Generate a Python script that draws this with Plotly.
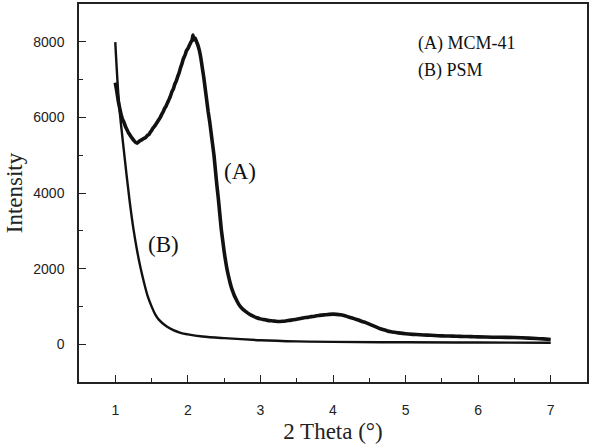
import plotly.graph_objects as go

# (A) MCM-41
a_x = [1.00,1.02,1.04,1.06,1.08,1.10,1.12,1.14,1.16,1.18,1.20,1.22,1.24,1.26,1.28,1.30,1.32,1.34,1.36,1.38,
       1.40,1.42,1.44,1.46,1.48,1.50,1.52,1.54,1.56,1.58,1.60,1.62,1.64,1.66,1.68,1.70,1.72,1.74,1.76,1.78,
       1.80,1.82,1.84,1.86,1.88,1.90,1.92,1.94,1.96,1.98,2.00,2.02,2.04,2.06,2.07,2.08,2.10,2.12,2.14,2.16,
       2.18,2.20,2.22,2.24,2.26,2.28,2.30,2.32,2.34,2.36,2.38,2.40,2.42,2.44,2.46,2.48,2.50,2.52,2.54,2.56,
       2.58,2.60,2.62,2.64,2.66,2.68,2.70,2.73,2.76,2.80,2.85,2.90,2.95,3.00,3.05,3.10,3.15,3.20,3.25,3.30,
       3.35,3.40,3.45,3.50,3.55,3.60,3.65,3.70,3.75,3.80,3.85,3.90,3.95,4.00,4.05,4.10,4.15,4.20,4.25,4.30,
       4.35,4.40,4.45,4.50,4.55,4.60,4.65,4.70,4.75,4.80,4.85,4.90,5.00,5.10,5.20,5.30,5.40,5.50,5.60,5.70,
       5.80,5.90,6.00,6.20,6.40,6.60,6.80,6.90,7.00]
a_y = [6920,6700,6450,6250,6080,5950,5870,5760,5680,5600,5540,5480,5430,5380,5340,5320,5350,5380,5400,5430,
       5450,5470,5520,5540,5600,5650,5720,5760,5820,5880,5940,6000,6080,6150,6240,6300,6390,6470,6560,6680,
       6750,6880,6960,7080,7180,7320,7430,7560,7640,7760,7820,7900,7980,8060,8180,8050,8100,8000,7900,7760,
       7560,7300,7050,6750,6450,6150,5900,5600,5300,5000,4600,4200,3850,3450,3050,2750,2450,2200,1980,1800,
       1640,1500,1390,1290,1210,1130,1060,980,920,860,790,740,700,670,650,630,620,610,600,605,
       615,630,645,660,680,700,710,730,740,760,770,780,790,795,790,780,760,730,700,670,
       640,600,570,530,490,450,410,380,350,330,315,300,275,260,250,240,230,220,215,210,
       205,200,195,185,180,170,150,140,125]

# (B) PSM
b_x = [1.00,1.05,1.10,1.15,1.20,1.25,1.30,1.35,1.40,1.45,1.50,1.55,1.60,1.70,1.80,1.90,2.00,2.20,2.50,3.00,
       3.50,4.00,5.00,6.00,7.00]
b_y = [7990,6400,5440,4570,3750,3050,2480,2000,1600,1250,1000,790,650,480,370,300,260,205,160,105,
       75,62,50,45,40]

x_ticks = [1, 2, 3, 4, 5, 6, 7]
y_ticks = [0, 2000, 4000, 6000, 8000]

fig = go.Figure()
fig.add_trace(go.Scatter(x=a_x, y=a_y, mode="lines", line=dict(color="#111111", width=3.6, shape="spline", smoothing=0.6),
                         showlegend=False))
fig.add_trace(go.Scatter(x=b_x, y=b_y, mode="lines", line=dict(color="#111111", width=2.4, shape="spline"),
                         showlegend=False))

serif = "Liberation Serif, Times New Roman, serif"
sans = "Liberation Sans, Arial, sans-serif"

fig.add_annotation(x=2.72, y=4560, text="(A)", showarrow=False, font=dict(family=serif, size=23, color="#111"))
fig.add_annotation(x=1.66, y=2650, text="(B)", showarrow=False, font=dict(family=serif, size=23, color="#111"))
fig.add_annotation(x=5.14, y=7955, text="(A) MCM-41", showarrow=False, xanchor="left",
                   font=dict(family=serif, size=18, color="#111"))
fig.add_annotation(x=5.14, y=7240, text="(B) PSM", showarrow=False, xanchor="left",
                   font=dict(family=serif, size=18, color="#111"))

fig.update_layout(
    width=590, height=445,
    margin=dict(l=79, r=3, t=4, b=63),
    paper_bgcolor="white", plot_bgcolor="white",
)
fig.update_xaxes(
    range=[0.5, 7.5], tickvals=x_ticks, ticks="inside", ticklen=7, tickwidth=1.3, tickcolor="#222",
    minor=dict(dtick=0.5, tick0=0.5, ticks="inside", ticklen=4, tickwidth=1.2, tickcolor="#222"),
    showline=True, linecolor="#222", linewidth=1.5, mirror=True, showgrid=False, zeroline=False,
    tickfont=dict(family=sans, size=14, color="#222"), ticklabelstandoff=14, automargin=False,
    title=dict(text="2 Theta (°)", font=dict(family=serif, size=23, color="#222"), standoff=6),
)
fig.update_yaxes(
    range=[-1000, 9000], tickvals=y_ticks, ticks="inside", ticklen=7, tickwidth=1.3, tickcolor="#222",
    minor=dict(dtick=1000, tick0=0, ticks="inside", ticklen=4, tickwidth=1.2, tickcolor="#222"),
    showline=True, linecolor="#222", linewidth=1.5, mirror=True, showgrid=False, zeroline=False,
    tickfont=dict(family=sans, size=14, color="#222"), ticklabelstandoff=10, automargin=False,
    title=dict(text="Intensity", font=dict(family=serif, size=23, color="#222"), standoff=4),
)

post = (
    "document.body.style.margin='0';"
    "document.body.style.overflow='hidden';"
    "var gd=document.getElementById('{plot_id}');"
    "Plotly.relayout(gd,{width:590,height:445});"
)
fig.write_html("out.html", post_script=post, config={"responsive": False, "displayModeBar": False})
